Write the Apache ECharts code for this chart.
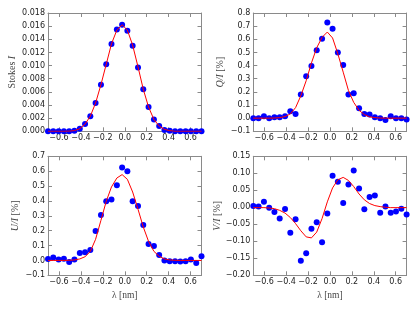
<!DOCTYPE html>
<html>
<head>
<meta charset="utf-8">
<script src="https://cdn.jsdelivr.net/npm/echarts@6/dist/echarts.min.js"></script>
<style>
html,body{margin:0;padding:0;background:#fff;}
#chart{width:415px;height:312px;}
</style>
</head>
<body>
<div id="chart"></div>
<script>
// Wavelength samples (nm)
const lambda = [-0.7, -0.652, -0.603, -0.555, -0.507, -0.459, -0.41, -0.362, -0.314, -0.266, -0.217, -0.169, -0.121, -0.072, -0.024, 0.024, 0.072, 0.121, 0.169, 0.217, 0.266, 0.314, 0.362, 0.41, 0.459, 0.507, 0.555, 0.603, 0.652, 0.7];

// Stokes I
const stokesI = [0, 0, 0, 0, 0, 0.0001, 0.0004, 0.0011, 0.0023, 0.0043, 0.0071, 0.0102, 0.0133, 0.0155, 0.0162, 0.0153, 0.0130, 0.0097, 0.0064, 0.0037, 0.0018, 0.0008, 0.0002, 0.0001, 0, 0, 0, 0, 0, 0];
const stokesIFit = [0, 0, 0, 0, 0.00002, 0.0001, 0.0004, 0.0011, 0.0023, 0.0043, 0.0071, 0.0102, 0.0133, 0.0154, 0.0162, 0.0154, 0.0131, 0.0098, 0.0064, 0.0037, 0.0018, 0.0008, 0.0003, 0.0001, 0, 0, 0, 0, 0, 0];

// Q/I
const qOverI = [0.0, 0.0, 0.015, 0.0, 0.007, 0.007, 0.015, 0.053, 0.032, 0.18, 0.318, 0.397, 0.516, 0.605, 0.727, 0.68, 0.50, 0.405, 0.18, 0.19, 0.075, 0.032, 0.027, 0.007, 0.0, -0.014, 0.015, 0.0, 0.0, -0.01];
const qFit = [0, 0, 0, 0, 0.001, 0.004, 0.012, 0.032, 0.08, 0.17, 0.285, 0.42, 0.535, 0.615, 0.655, 0.61, 0.49, 0.35, 0.21, 0.12, 0.06, 0.027, 0.01, 0.004, 0.001, 0, 0, 0, 0, 0];

// U/I
const uOverI = [0.01, 0.019, 0.006, 0.012, -0.01, 0.006, 0.05, 0.055, 0.07, 0.198, 0.306, 0.397, 0.41, 0.505, 0.625, 0.60, 0.397, 0.366, 0.238, 0.11, 0.097, 0.037, -0.001, -0.006, -0.006, -0.008, -0.006, 0.006, -0.017, 0.028];
const uFit = [0, 0, 0, 0, 0.001, 0.003, 0.01, 0.025, 0.06, 0.142, 0.27, 0.397, 0.494, 0.554, 0.577, 0.545, 0.46, 0.344, 0.225, 0.128, 0.061, 0.028, 0.01, 0.003, 0.001, 0, 0, 0, 0, 0];

// V/I
const vOverI = [0.004, 0.002, 0.016, -0.001, -0.014, -0.033, -0.005, -0.075, -0.035, -0.157, -0.135, -0.063, -0.044, -0.103, -0.018, 0.093, 0.075, 0.013, 0.067, 0.108, 0.055, -0.006, 0.03, 0.035, -0.016, 0.002, -0.016, -0.012, -0.004, -0.021];
const vFit = [-0.001, -0.001, -0.001, -0.002, -0.004, -0.009, -0.017, -0.03, -0.048, -0.069, -0.087, -0.09, -0.073, -0.033, 0.016, 0.057, 0.081, 0.088, 0.079, 0.061, 0.039, 0.022, 0.011, 0.005, 0.002, 0, -0.001, -0.001, -0.001, -0.001];

// Axis ranges / tick settings
const xRange = [-0.7, 0.7];
const yRanges = [[0, 0.018, 0.002, 3], [-0.1, 0.8, 0.1, 1], [-0.1, 0.7, 0.1, 1], [-0.2, 0.15, 0.05, 2]];
const yNames = [
  '{n|Stokes }{i|I}',
  '{i|Q/I} {n|[%]}',
  '{i|U/I} {n|[%]}',
  '{i|V/I} {n|[%]}'
];
const xName = 'λ [nm]';

const obs = [stokesI, qOverI, uOverI, vOverI];
const fits = [stokesIFit, qFit, uFit, vFit];

const frameColor = '#8a8a8a';
const labelColor = '#222';
const serif = 'Liberation Serif';
const sans = 'DejaVu Sans';

function fmt(v, d) {
  if (Math.abs(v) < 1e-9) v = 0;
  return v.toFixed(d).replace('-', '\u2212');
}

const grids = [
  {left: 48, top: 13, width: 153.5, height: 118.3},
  {left: 253.3, top: 13, width: 153.3, height: 118.3},
  {left: 48, top: 156.3, width: 153.5, height: 119},
  {left: 253.3, top: 156.3, width: 153.3, height: 119}
];
grids.forEach(g => { g.outerBoundsMode = 'none'; g.containLabel = false; });

const xAxes = [], yAxes = [], series = [];
const nameStyle = {
  fontFamily: serif, fontSize: 10, color: '#444',
  rich: {
    n: {fontFamily: serif, fontSize: 10, color: '#444'},
    i: {fontFamily: serif, fontSize: 10, color: '#444', fontStyle: 'italic'}
  }
};

for (let i = 0; i < 4; i++) {
  const showXName = i >= 2;
  const base = {
    type: 'value', gridIndex: i, min: xRange[0], max: xRange[1],
    splitNumber: 7, minInterval: 0.2, maxInterval: 0.2,
    splitLine: {show: false},
    axisLine: {show: true, onZero: false, lineStyle: {color: frameColor, width: 1}},
    axisTick: {show: true, inside: true, length: 4, lineStyle: {color: frameColor}}
  };
  xAxes.push(Object.assign({}, base, {
    position: 'bottom',
    axisLabel: {show: true, margin: 3, fontFamily: sans, fontSize: 8, color: labelColor,
      showMinLabel: false, showMaxLabel: false, formatter: v => fmt(v, 1)},
    name: showXName ? xName : '', nameLocation: 'middle', nameGap: 15,
    nameTextStyle: {fontFamily: serif, fontSize: 9.5, color: '#444'}
  }));
  xAxes.push(Object.assign({}, base, {position: 'top', axisLabel: {show: false}}));

  const [ymin, ymax, yint, yd] = yRanges[i];
  const ybase = {
    type: 'value', gridIndex: i, min: ymin, max: ymax, interval: yint,
    splitLine: {show: false},
    axisLine: {show: true, onZero: false, lineStyle: {color: frameColor, width: 1}},
    axisTick: {show: true, inside: true, length: 4, lineStyle: {color: frameColor}}
  };
  yAxes.push(Object.assign({}, ybase, {
    position: 'left',
    axisLabel: {show: true, margin: 3, fontFamily: sans, fontSize: 8, color: labelColor,
      showMinLabel: true, showMaxLabel: true, formatter: v => fmt(v, yd)},
    name: yNames[i], nameLocation: 'middle', nameGap: (i === 0 ? 31 : 28), nameRotate: 90,
    nameTextStyle: nameStyle
  }));
  yAxes.push(Object.assign({}, ybase, {position: 'right', axisLabel: {show: false}}));

  series.push({
    type: 'scatter', xAxisIndex: 2 * i, yAxisIndex: 2 * i,
    data: lambda.map((x, j) => [x, obs[i][j]]),
    symbol: 'circle', symbolSize: 6,
    itemStyle: {color: '#0000ff', opacity: 1},
    z: 2, silent: true
  });
  series.push({
    type: 'line', xAxisIndex: 2 * i, yAxisIndex: 2 * i,
    data: lambda.map((x, j) => [x, fits[i][j]]),
    showSymbol: false, symbol: 'none',
    lineStyle: {color: '#ff0000', width: 1},
    z: 3, silent: true, clip: true
  });
}

const chart = echarts.init(document.getElementById('chart'), null, {renderer: 'canvas'});
chart.setOption({
  animation: false,
  backgroundColor: '#ffffff',
  grid: grids,
  xAxis: xAxes,
  yAxis: yAxes,
  series: series
});
</script>
</body>
</html>
